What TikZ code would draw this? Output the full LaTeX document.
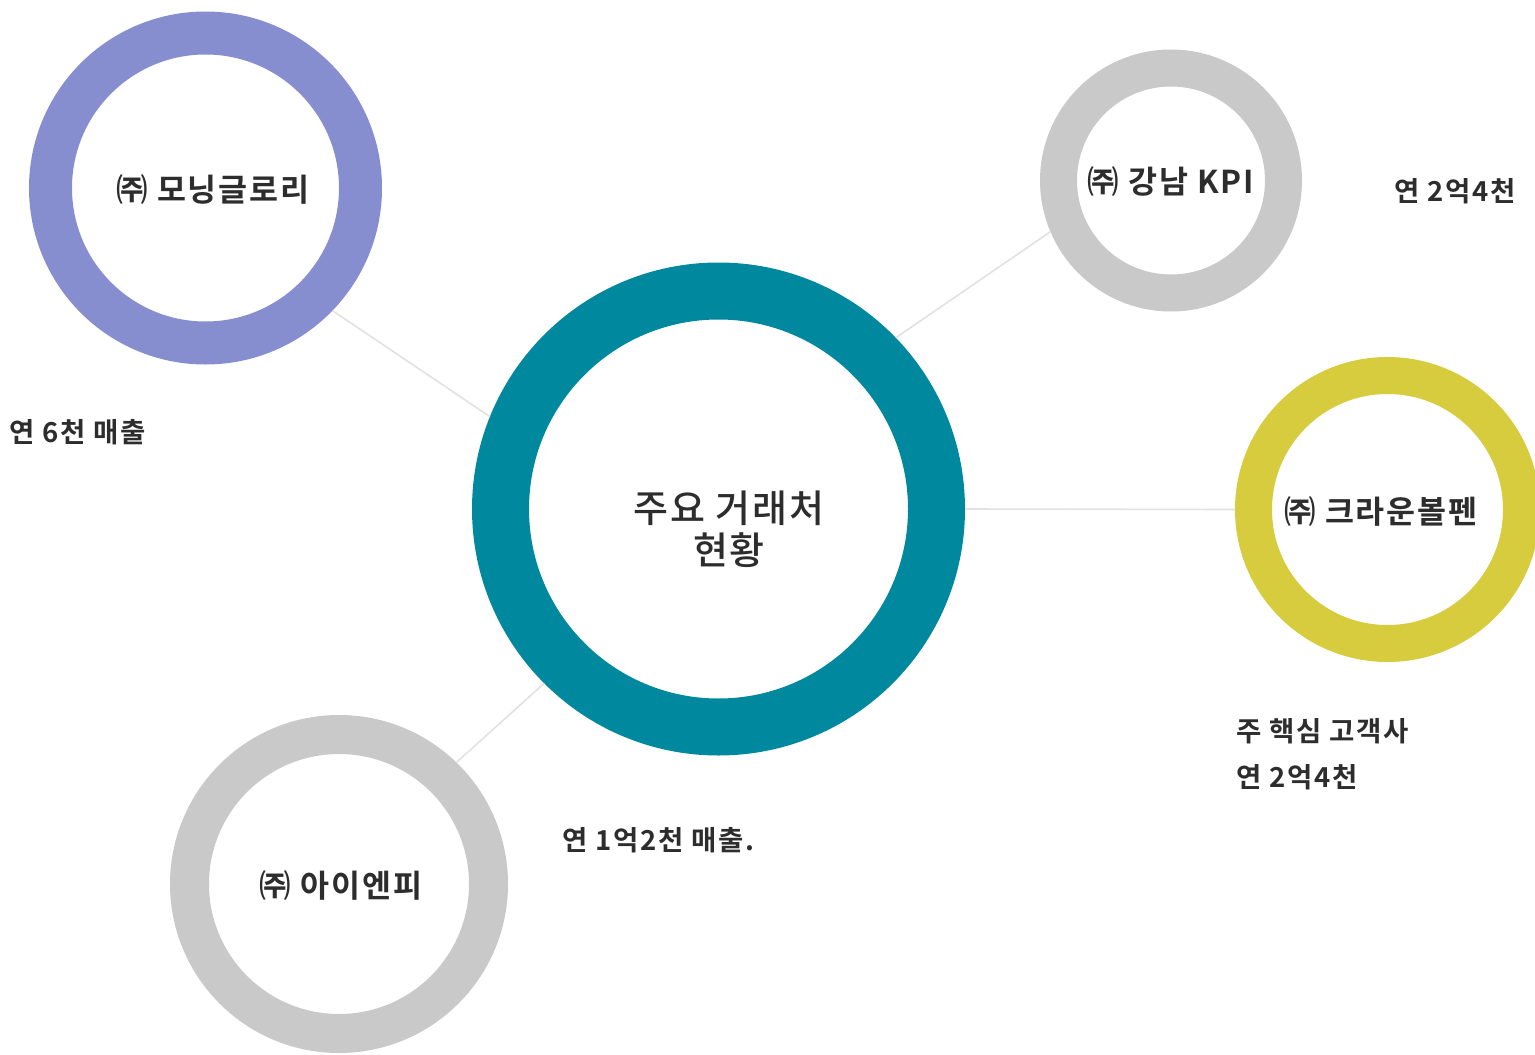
\documentclass[tikz,border=0pt]{standalone}
\usepackage{fontspec}
\setmainfont{Noto Sans CJK KR}
\newfontfamily\krbold{Noto Sans CJK KR Bold}[LetterSpace=6]
\newfontfamily\krmed{Noto Sans CJK KR Medium}[LetterSpace=5]
\definecolor{ringpurple}{RGB}{134,142,208}
\definecolor{ringteal}{RGB}{0,137,158}
\definecolor{ringgray}{RGB}{201,201,201}
\definecolor{ringyellow}{RGB}{214,204,62}
\definecolor{linkgray}{RGB}{226,226,226}
\definecolor{txt}{RGB}{45,45,45}
\tikzset{
  ring/.style 2 args={circle, draw=#1, line width=#2, inner sep=0pt},
  label/.style={text=txt, font=\krbold\fontsize{27.5}{31}\selectfont, inner sep=0pt},
  ringlabel/.style={text=txt, font=\krbold\fontsize{31.5}{35}\selectfont, inner sep=0pt},
  link/.style={draw=linkgray, line width=1.6pt}
}
\begin{document}
\begin{tikzpicture}[x=1pt,y=-1pt]
\useasboundingbox (0,0) rectangle (1535,1055);
\fill[white] (0,0) rectangle (1535,1055);
\clip (0,0) rectangle (1535,1055);
% rings
\node[ring={ringteal}{57pt}, minimum size=436pt] (hub) at (718.5,509) {};
\node[ring={ringpurple}{43pt}, minimum size=310pt] (morning) at (205.5,188) {};
\node[ring={ringgray}{37pt}, minimum size=225pt] (kpi) at (1171,180.5) {};
\node[ring={ringyellow}{37pt}, minimum size=268pt] (crown) at (1387.5,509.5) {};
\node[ring={ringgray}{39pt}, minimum size=299pt] (inp) at (339,884) {};
% ring labels
\node[text=txt, font=\krmed\fontsize{38}{42}\selectfont, align=center, inner sep=0pt] (hubtext) at (729,529) {주요 거래처\\현황};
\node[ringlabel] (morningtext) at (213,190) {㈜ 모닝글로리};
\node[ringlabel] (kpitext) at (1171,182) {㈜ 강남 KPI};
\node[ringlabel] (crowntext) at (1381,512) {㈜ 크라운볼펜};
\node[ringlabel] (inptext) at (341,886) {㈜ 아이엔피};
% links
\draw[link] (morning.-44) -- (hub.158);
\draw[link] (hub.44.8) -- (kpi.203);
\draw[link] (hub.0) -- (crown.180);
\draw[link] (hub.225.5) -- (inp.46);
% side labels
\node[label, anchor=west] (t1) at (9,432) {연 6천 매출};
\node[label, anchor=west] (t2) at (1394,191) {연 2억4천};
\node[label, anchor=west] (t3) at (1236,731) {주 핵심 고객사};
\node[label, anchor=west] (t4) at (1236,777) {연 2억4천};
\node[label, anchor=west] (t5) at (562,840) {연 1억2천 매출.};
\end{tikzpicture}
\end{document}
